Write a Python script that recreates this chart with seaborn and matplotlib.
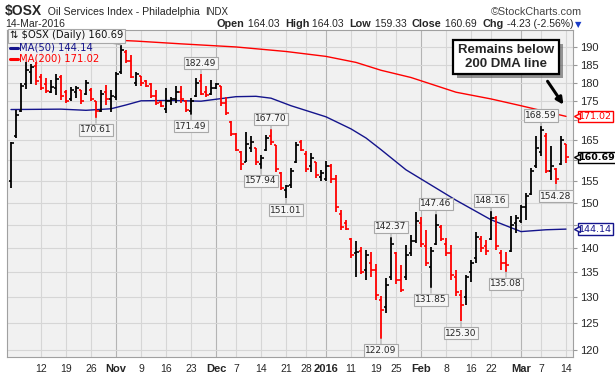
import numpy as np
import pandas as pd
import matplotlib
matplotlib.use("Agg")
import matplotlib.pyplot as plt
import matplotlib.patheffects as pe
from matplotlib.lines import Line2D
import matplotlib.transforms as mtransforms
import seaborn as sns

# ---------------- data ----------------
holidays = ["2015-11-26", "2015-12-25", "2016-01-01", "2016-01-18", "2016-02-15"]
dates = [d for d in pd.bdate_range("2015-10-02", "2016-03-14")
         if d.strftime("%Y-%m-%d") not in holidays]

opens = [155.0, 166.0, 172.5, 179.5, 183.0, 184.5, 181.5, 179.5, 177.5, 178.5,
         181.5, 177.5, 175.5, 177.5, 178.0, 177.0, 178.0, 175.0, 172.5, 177.5,
         175.5, 176.0, 183.0, 188.5, 186.0, 180.0, 181.9, 180.5, 179.5, 176.5,
         174.8, 173.0, 175.0, 175.5, 177.5, 175.0, 172.5, 176.5, 180.5, 177.5,
         176.8, 178.5, 179.0, 174.5, 169.5, 166.5, 162.0, 159.5, 163.0, 163.0,
         159.0, 162.5, 166.0, 163.8, 157.0, 153.0, 154.0, 159.5, 164.5, 161.5,
         158.5, 159.5, 156.0, 155.5, 158.5, 155.5, 147.5, 145.5, 142.0, 139.0,
         139.5, 135.5, 137.0, 135.5, 129.5, 128.0, 134.0, 139.0, 133.5, 134.0,
         139.0, 141.5, 145.5, 140.5, 136.0, 141.0, 144.5, 141.0, 139.0, 134.0,
         130.5, 130.0, 135.0, 138.0, 142.0, 140.5, 142.0, 146.5, 139.0, 137.0,
         139.5, 145.5, 146.0, 149.0, 152.0, 158.5, 162.0, 166.0, 157.5, 158.0,
         159.0, 164.03]
highs = [164.6, 172.7, 179.9, 185.6, 185.2, 185.6, 182.4, 181.3, 180.8, 182.4,
         182.1, 178.0, 178.9, 179.2, 178.0, 180.8, 178.5, 175.0, 178.0, 179.4,
         178.0, 183.0, 190.6, 189.2, 187.8, 183.0, 181.9, 180.8, 179.9, 178.0,
         175.0, 178.5, 176.0, 179.1, 179.1, 175.4, 175.9, 181.3, 182.49, 179.1,
         180.8, 179.9, 179.1, 176.0, 169.7, 166.7, 162.2, 167.1, 165.9, 163.0,
         161.3, 166.3, 167.70, 163.8, 157.3, 154.1, 158.2, 164.6, 165.0, 162.2,
         161.8, 159.7, 157.7, 159.9, 159.1, 156.5, 148.4, 146.2, 142.3, 141.5,
         140.3, 139.7, 139.3, 136.8, 130.3, 133.8, 142.37, 139.3, 136.5, 140.7,
         142.9, 148.0, 146.9, 144.0, 140.3, 147.46, 145.1, 142.2, 140.7, 135.5,
         131.5, 134.5, 137.5, 143.6, 142.6, 141.8, 148.16, 147.0, 139.7, 139.3,
         147.0, 147.3, 149.5, 152.3, 158.2, 165.9, 168.59, 166.7, 163.4, 158.2,
         165.9, 164.03]
lows = [153.4, 165.5, 172.2, 178.3, 179.5, 179.4, 178.0, 177.3, 177.2, 176.7,
        175.4, 174.5, 175.0, 175.8, 174.2, 176.7, 175.0, 170.61, 172.2, 174.0,
        172.2, 175.4, 182.4, 185.5, 181.2, 179.1, 179.1, 178.8, 175.9, 174.0,
        173.4, 172.0, 174.0, 174.6, 174.6, 172.2, 171.49, 176.2, 176.7, 176.2,
        176.7, 178.3, 173.6, 171.5, 166.0, 162.2, 157.7, 159.5, 161.9, 158.9,
        157.94, 162.2, 163.8, 157.3, 153.0, 151.01, 153.4, 159.3, 162.2, 157.3,
        157.3, 155.7, 155.0, 155.0, 154.6, 148.0, 144.0, 144.0, 138.0, 134.1,
        134.7, 133.4, 134.1, 129.5, 122.09, 127.0, 133.4, 132.6, 131.0, 133.4,
        138.3, 141.1, 140.3, 136.3, 131.85, 140.7, 141.5, 138.3, 133.4, 130.2,
        125.30, 128.5, 133.0, 137.0, 139.3, 138.6, 141.8, 139.7, 135.5, 135.08,
        139.3, 143.3, 145.5, 146.2, 151.8, 158.2, 161.0, 156.9, 155.3, 154.28,
        158.9, 159.33]
closes = [164.2, 171.5, 179.0, 183.5, 184.2, 180.5, 178.5, 177.8, 178.8, 181.0,
          176.5, 175.0, 178.0, 178.6, 175.0, 180.0, 175.5, 172.5, 177.0, 175.5,
          176.5, 182.5, 189.0, 186.0, 181.5, 182.5, 180.0, 179.0, 176.5, 174.5,
          173.6, 175.0, 175.6, 177.5, 175.5, 172.8, 175.0, 180.0, 177.0, 176.6,
          178.5, 179.5, 174.5, 172.0, 166.5, 162.5, 159.0, 164.0, 164.5, 159.5,
          160.5, 165.5, 164.5, 158.0, 153.5, 153.8, 157.5, 163.8, 162.5, 158.0,
          160.5, 156.5, 157.0, 158.5, 155.5, 149.0, 144.5, 144.2, 138.5, 139.3,
          135.0, 138.5, 135.5, 130.5, 127.5, 132.5, 141.0, 133.5, 131.5, 138.5,
          141.5, 146.0, 141.0, 137.0, 139.5, 145.0, 142.0, 139.0, 134.5, 131.0,
          128.5, 134.0, 137.0, 142.5, 140.0, 139.5, 146.5, 140.5, 137.0, 136.5,
          145.0, 146.5, 149.0, 151.5, 157.5, 163.0, 167.5, 157.5, 158.5, 155.5,
          164.92, 160.69]

ma50_dates = ["2015-10-02", "2015-10-16", "2015-10-23", "2015-10-30", "2015-11-04",
              "2015-11-09", "2015-11-17", "2015-11-25", "2015-12-07", "2015-12-11",
              "2015-12-16", "2015-12-22", "2016-01-04", "2016-01-11", "2016-01-14",
              "2016-01-20", "2016-01-27", "2016-02-04", "2016-02-10", "2016-02-22",
              "2016-03-01", "2016-03-08", "2016-03-14"]
ma50_vals = [172.8, 172.9, 172.6, 173.0, 174.0, 175.1, 175.2, 175.0, 176.2, 176.3,
             175.8, 173.8, 170.9, 167.8, 165.5, 162.6, 157.7, 153.4, 150.6, 146.2,
             143.6, 144.0, 144.14]
ma200_dates = ["2015-10-02", "2015-10-29", "2015-11-06", "2015-11-19", "2015-12-07",
               "2015-12-21", "2016-01-04", "2016-01-12", "2016-01-20", "2016-01-28",
               "2016-02-10", "2016-02-22", "2016-03-01", "2016-03-14"]
ma200_vals = [194.2, 192.1, 191.7, 190.9, 190.0, 188.7, 187.3, 185.6, 183.4, 181.4,
              177.4, 175.6, 173.8, 171.02]

tick_dates = ["2015-10-12", "2015-10-19", "2015-10-26", "2015-11-02", "2015-11-09",
              "2015-11-16", "2015-11-23", "2015-12-01", "2015-12-07", "2015-12-14",
              "2015-12-21", "2015-12-28", "2016-01-04", "2016-01-11", "2016-01-19",
              "2016-01-25", "2016-02-01", "2016-02-08", "2016-02-16", "2016-02-22",
              "2016-03-01", "2016-03-07", "2016-03-14"]
tick_labels = ["12", "19", "26", "Nov", "9", "16", "23", "Dec", "7", "14", "21", "28",
               "2016", "11", "19", "25", "Feb", "8", "16", "22", "Mar", "7", "14"]
month_labels = ["Nov", "Dec", "2016", "Feb", "Mar"]

y_ticks = [120, 125, 130, 135, 140, 145, 150, 155, 160, 165, 170, 175, 180, 185, 190]
y_hidden = [145, 160, 170]   # covered by the value boxes in the reference

high_label_dates = ["2015-11-25", "2015-12-16", "2016-01-22", "2016-02-04",
                    "2016-02-22", "2016-03-07"]
high_label_vals = [182.49, 167.70, 142.37, 147.46, 148.16, 168.59]
low_label_dates = ["2015-10-27", "2015-11-23", "2015-12-14", "2015-12-21",
                   "2016-01-20", "2016-02-03", "2016-02-11", "2016-02-25", "2016-03-10"]
low_label_vals = [170.61, 171.49, 157.94, 151.01, 122.09, 131.85, 125.30, 135.08, 154.28]

last_close = 160.69
ma50_last = 144.14
ma200_last = 171.02

# ---------------- frame ----------------
df = pd.DataFrame({"date": dates, "open": opens, "high": highs, "low": lows, "close": closes})
df["pos"] = np.arange(len(df))
pos_of = {d.strftime("%Y-%m-%d"): i for i, d in enumerate(df["date"])}
prev = df["close"].shift(1).fillna(df["close"].iloc[0] - 1)
df["color"] = np.where(df["close"] >= prev, "#000000", "#ff0000")

ma50 = pd.DataFrame({"pos": [pos_of[d] for d in ma50_dates], "val": ma50_vals})
ma200 = pd.DataFrame({"pos": [pos_of[d] for d in ma200_dates], "val": ma200_vals})

sns.set_style("white")
plt.rcParams["font.family"] = ["Liberation Sans", "DejaVu Sans"]

W, H = 615, 374
fig = plt.figure(figsize=(W / 100, H / 100), dpi=100)
fig.patch.set_facecolor("white")
ax = fig.add_axes([7 / W, 1 - 357 / H, (573 - 7) / W, (357 - 30) / H])
ax.set_facecolor("#f1f1f1")

ax.set_yscale("log")
ax.set_ylim(118.73, 194.95)
ax.set_xlim(-0.8, 112.4)

# grid
for d, lab in zip(tick_dates, tick_labels):
    ax.axvline(pos_of[d], color="#b4b4b4" if lab in month_labels else "#d6d6d6",
               lw=0.8, zorder=0)
for v in y_ticks:
    ax.axhline(v, color="#d6d6d6", lw=0.8, zorder=0)

# MA lines
sns.lineplot(data=ma200, x="pos", y="val", ax=ax, color="#ff0000", lw=1.0, zorder=2)
sns.lineplot(data=ma50, x="pos", y="val", ax=ax, color="#14148c", lw=1.0, zorder=2)

# OHLC bars
ax.vlines(df["pos"], df["low"], df["high"], colors=df["color"], lw=1.3, zorder=3)
ax.hlines(df["open"], df["pos"] - 0.5, df["pos"], colors=df["color"], lw=1.2, zorder=3)
ax.hlines(df["close"], df["pos"], df["pos"] + 0.5, colors=df["color"], lw=1.2, zorder=3)

# axes styling
ax.set_xlabel("")
ax.set_ylabel("")
ax.set_xticks([pos_of[d] for d in tick_dates])
ax.set_xticklabels(tick_labels)
for t in ax.get_xticklabels():
    t.set_fontsize(7.5)
    if t.get_text() in month_labels:
        t.set_fontweight("bold")
        t.set_fontsize(8)
ax.set_xticks(df["pos"], minor=True)
ax.tick_params(axis="x", which="major", length=3, color="#999999", pad=2)
ax.tick_params(axis="x", which="minor", length=1.5, color="#aaaaaa")
ax.yaxis.tick_right()
ax.set_yticks(y_ticks)
ax.set_yticklabels(["" if v in y_hidden else str(v) for v in y_ticks])
ax.yaxis.set_minor_locator(matplotlib.ticker.NullLocator())
ax.tick_params(axis="y", which="major", length=3, color="#999999", labelsize=8, pad=2)
for s in ax.spines.values():
    s.set_color("#a0a0a0")
    s.set_linewidth(0.8)

# high / low labels
lab_box = dict(boxstyle="square,pad=0.18", fc="#f6f6f6", ec="#a8a8a8", lw=0.8)
for d, v in zip(high_label_dates, high_label_vals):
    ax.annotate(f"{v:.2f}", xy=(pos_of[d], v), xytext=(0, 7.5), textcoords="offset points",
                ha="center", va="center", fontsize=6.5, family="DejaVu Sans",
                bbox=lab_box, zorder=5,
                arrowprops=dict(arrowstyle="-", color="#a8a8a8", lw=0.8,
                                shrinkA=0, shrinkB=0))
for d, v in zip(low_label_dates, low_label_vals):
    ax.annotate(f"{v:.2f}", xy=(pos_of[d], v), xytext=(0, -8.5), textcoords="offset points",
                ha="center", va="center", fontsize=6.5, family="DejaVu Sans",
                bbox=lab_box, zorder=5,
                arrowprops=dict(arrowstyle="-", color="#a8a8a8", lw=0.8,
                                shrinkA=0, shrinkB=0))

# right side value labels
bt = mtransforms.blended_transform_factory(ax.transAxes, ax.transData)
for v, col, bold in [(ma200_last, "#ff0000", False), (last_close, "#000000", True),
                     (ma50_last, "#14148c", False)]:
    ax.annotate(f"{v:.2f}", xy=(1.0, v), xycoords=bt, xytext=(4.5, 0),
                textcoords="offset points", ha="left", va="center", fontsize=6.8,
                family="DejaVu Sans", fontweight="bold" if bold else "normal",
                color="#000000" if bold else col, annotation_clip=False,
                bbox=dict(boxstyle="square,pad=0.12", fc="white", ec=col, lw=1.0),
                zorder=6)
    ax.plot([1.0 + 4.2 / 566], [v], transform=bt, marker="<", ms=4.5, mfc="white",
            mec=col, mew=1.0, clip_on=False, zorder=7, ls="none")

# legend box (top left)
ax.annotate("\u21c5 \\$OSX (Daily) 160.69", xy=(pos_of["2015-11-03"], 190.6),
            xycoords="data", xytext=(10 / W, 1 - 35.5 / H), textcoords="figure fraction",
            ha="left", va="center", fontsize=7.2, family="DejaVu Sans", color="#111111",
            bbox=dict(boxstyle="square,pad=0.2", fc="#f6f6f6", ec="#a8a8a8", lw=0.8),
            arrowprops=dict(arrowstyle="-", color="#a8a8a8", lw=0.8, shrinkA=0, shrinkB=0),
            zorder=7)
for yy, col, txt in [(47.5, "#14148c", "MA(50) 144.14"), (58.5, "#ff0000", "MA(200) 171.02")]:
    fig.add_artist(Line2D([10 / W, 18 / W], [1 - yy / H, 1 - yy / H], color=col, lw=2.2))
    fig.text(19 / W, 1 - yy / H, txt, ha="left", va="center", fontsize=7.2,
             family="DejaVu Sans", color=col)

# annotation box with arrow
box = fig.text(506 / W, 1 - 57 / H, "Remains below\n200 DMA line", ha="center", va="center",
               fontsize=9.5, fontweight="bold", linespacing=1.15,
               bbox=dict(boxstyle="square,pad=0.35", fc="white", ec="black", lw=1.6))
box.get_bbox_patch().set_path_effects([pe.SimplePatchShadow(offset=(3, -3), shadow_rgbFace="#555555",
                                                             alpha=0.6), pe.Normal()])
fig.add_artist(matplotlib.patches.FancyArrowPatch((546 / W, 1 - 79 / H), (565 / W, 1 - 107 / H),
                                                  transform=fig.transFigure, arrowstyle="-|>",
                                                  mutation_scale=10, lw=2.2, color="black"))

# header texts
renderer = fig.canvas.get_renderer()


def seq(x0, y, pieces, align="left"):
    arts = []
    x = 0.0
    for s, kw in pieces:
        t = fig.text(0, 1 - y / H, s, ha="left", va="baseline", **kw)
        w = t.get_window_extent(renderer).width
        arts.append((t, x))
        x += w
    start = x0 if align == "left" else x0 - x
    for t, off in arts:
        t.set_x((start + off) / W)


seq(5, 15, [("\\$OSX", dict(fontsize=10, fontweight="bold")),
            ("  Oil Services Index - Philadelphia  ", dict(fontsize=7.6)),
            ("INDX", dict(fontsize=7.0))])
fig.text(582 / W, 1 - 15 / H, "\u00a9StockCharts.com", ha="right", va="baseline",
         fontsize=7.8, color="#444444")
fig.text(5 / W, 1 - 27 / H, "14-Mar-2016", ha="left", va="baseline", fontsize=7.5)
B = dict(fontsize=7.8, fontweight="bold")
N = dict(fontsize=7.5)
seq(573, 27, [("Open", B), (" 164.03  ", N), ("High", B), (" 164.03  ", N),
              ("Low", B), (" 159.33  ", N), ("Close", B), (" 160.69  ", N),
              ("Chg", B), (" -4.23 (-2.56%)", N)], align="right")
fig.text(575 / W, 1 - 27 / H, "\u25bc", ha="left", va="baseline", fontsize=6,
         color="#1a3cc8", family="DejaVu Sans")

fig.savefig("out.png", dpi=100, facecolor="white")
